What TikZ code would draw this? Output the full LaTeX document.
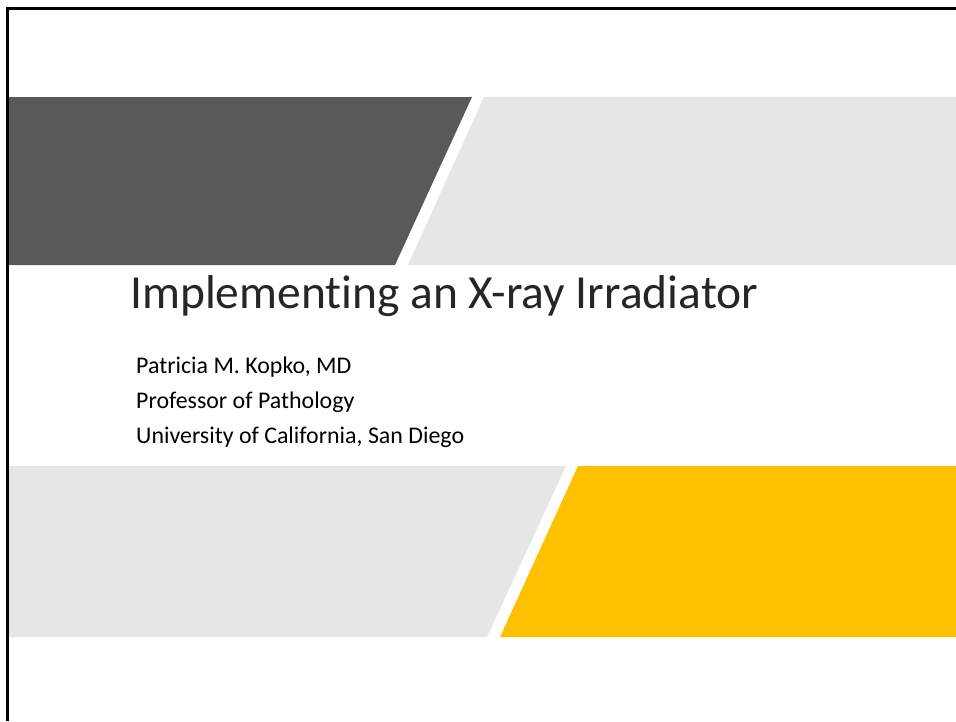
\documentclass[tikz,border=0pt]{standalone}
\usepackage{fontspec}
\setmainfont[Ligatures=NoCommon]{Carlito}
\definecolor{banddark}{HTML}{595959}
\definecolor{bandlight}{HTML}{E6E6E6}
\definecolor{bandgold}{HTML}{FFC000}
\definecolor{titleink}{HTML}{262626}
\tikzset{
  band/.style={draw=none},
  titletext/.style={anchor=base west, inner sep=0pt, text=titleink, font=\fontsize{47.5}{52}\selectfont},
  subtext/.style={anchor=base west, inner sep=0pt, text=black, font=\fontsize{23.9}{28}\selectfont},
}
\begin{document}
\begin{tikzpicture}[x=1pt,y=-1pt]
  \useasboundingbox[fill=white] (0,0) rectangle (956,721);
  % upper band: dark block and light block split by a slanted gap
  \fill[banddark] (9,97) -- (472,97) -- (395,265) -- (9,265) -- cycle;
  \fill[bandlight] (484,97) -- (956,97) -- (956,265) -- (408,265) -- cycle;
  % lower band: light block and gold block
  \fill[bandlight] (9,466) -- (566,466) -- (487,637) -- (9,637) -- cycle;
  \fill[bandgold] (578,466) -- (956,466) -- (956,637) -- (500,637) -- cycle;
  % frame on the left and top edges
  \draw[line width=3pt] (7.5,721) -- (7.5,8.5) -- (956,8.5);
  % title and subtitle
  \node[titletext] (title) at (130,308) {Implementing an X-ray Irradiator};
  \node[subtext] (author) at (136,373) {Patricia M. Kopko, MD};
  \node[subtext] (role) at (136,408) {Professor of Pathology};
  \node[subtext] (inst) at (136,443) {University of California, San Diego};
\end{tikzpicture}
\end{document}
